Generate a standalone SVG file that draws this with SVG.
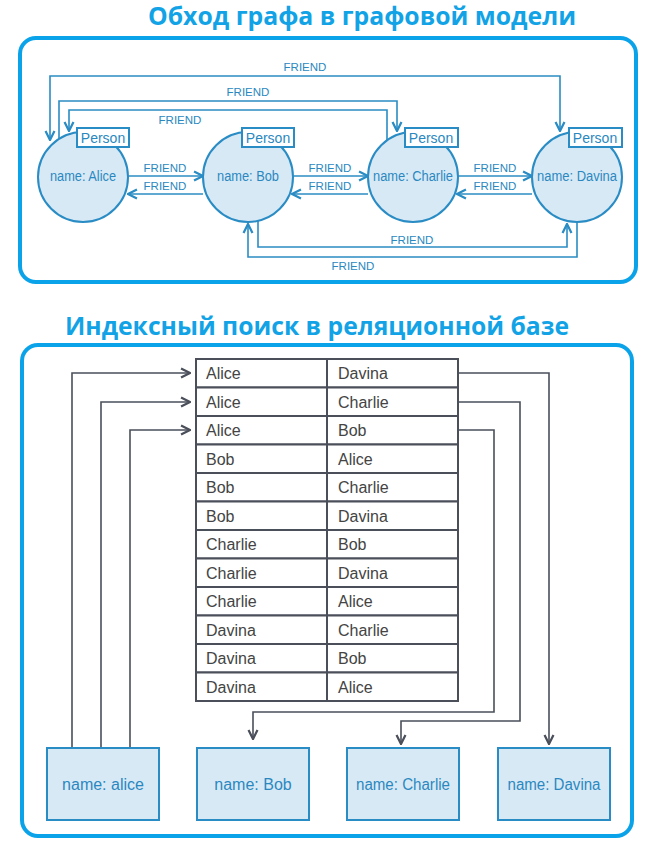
<svg xmlns="http://www.w3.org/2000/svg" width="657" height="851" viewBox="0 0 657 851">
<style>
.panel{fill:#fff;stroke:#0aa3ea;stroke-width:4}
.title{font-family:"Open Sans","Liberation Sans",sans-serif;font-weight:bold;font-size:24.5px;fill:#12a3e6;text-anchor:middle}
.node{fill:#d8e9f6;stroke:#2a8cc4;stroke-width:2}
.lbl{fill:#fff;stroke:#2a8cc4;stroke-width:2}
.nt{font-family:"Liberation Sans",Arial,sans-serif;font-size:14px;fill:#2a88c0;text-anchor:middle}
.ft{font-family:"Liberation Sans",Arial,sans-serif;font-size:11.5px;fill:#2a88c0;text-anchor:middle}
.e{fill:none;stroke:#2a8cc4;stroke-width:1.6}
.g{fill:none;stroke:#4a4f5a;stroke-width:1.6}
.cell{fill:#fff;stroke:#4a4f5a;stroke-width:2}
.tt{font-family:"Liberation Sans",Arial,sans-serif;font-size:16px;fill:#444}
.bt{font-family:"Liberation Sans",Arial,sans-serif;font-size:16px;fill:#2a88c0;text-anchor:middle}
</style>
<defs>
<marker id="ab" viewBox="0 0 10 10" refX="9" refY="5" markerWidth="7" markerHeight="7" orient="auto-start-reverse"><path d="M1,1 L9,5 L1,9" fill="none" stroke="#2a8cc4" stroke-width="2"/></marker>
<marker id="ag" viewBox="0 0 10 10" refX="9" refY="5" markerWidth="7" markerHeight="7" orient="auto-start-reverse"><path d="M1,1 L9,5 L1,9" fill="none" stroke="#4a4f5a" stroke-width="2"/></marker>
</defs>
<rect width="657" height="851" fill="#fff"/>
<text class="title" x="362" y="25" textLength="428" lengthAdjust="spacingAndGlyphs">Обход графа в графовой модели</text>
<rect class="panel" x="20" y="38" width="616" height="244" rx="16"/>
<text class="title" x="317" y="335" textLength="504" lengthAdjust="spacingAndGlyphs">Индексный поиск в реляционной базе</text>
<rect class="panel" x="22" y="345" width="610" height="491" rx="16"/>

<g id="connectors">
<path class="e" d="M128,176 H203" marker-end="url(#ab)"/>
<path class="e" d="M203,194 H128" marker-end="url(#ab)"/>
<path class="e" d="M292,176 H368" marker-end="url(#ab)"/>
<path class="e" d="M368,194 H292" marker-end="url(#ab)"/>
<path class="e" d="M457,176 H532" marker-end="url(#ab)"/>
<path class="e" d="M532,194 H457" marker-end="url(#ab)"/>
<path class="e" d="M50,140 V76 H560 V131" marker-start="url(#ab)" marker-end="url(#ab)"/>
<path class="e" d="M59,142 V101 H397 V131" marker-end="url(#ab)"/>
<path class="e" d="M387,142 V110 H69 V131" marker-end="url(#ab)"/>
<path class="e" d="M258,221 V247 H567 V224" marker-end="url(#ab)"/>
<path class="e" d="M577,221 V257 H248 V224" marker-end="url(#ab)"/>
<text class="ft" x="305" y="71">FRIEND</text>
<text class="ft" x="248" y="96">FRIEND</text>
<text class="ft" x="180" y="124">FRIEND</text>
<text class="ft" x="165" y="172">FRIEND</text>
<text class="ft" x="165" y="190">FRIEND</text>
<text class="ft" x="330" y="172">FRIEND</text>
<text class="ft" x="330" y="190">FRIEND</text>
<text class="ft" x="495" y="172">FRIEND</text>
<text class="ft" x="495" y="190">FRIEND</text>
<text class="ft" x="412" y="244">FRIEND</text>
<text class="ft" x="353" y="270">FRIEND</text>

<path class="g" d="M72,748 V373 H190" marker-end="url(#ag)"/>
<path class="g" d="M101,748 V402 H190" marker-end="url(#ag)"/>
<path class="g" d="M130,748 V430 H190" marker-end="url(#ag)"/>
<path class="g" d="M458,373 H549 V744" marker-end="url(#ag)"/>
<path class="g" d="M458,402 H520 V721 H401 V744" marker-end="url(#ag)"/>
<path class="g" d="M458,430 H494 V712 H253 V739" marker-end="url(#ag)"/>
</g>

<g id="alice"><circle class="node" cx="83" cy="177" r="45"/><rect class="lbl" x="77" y="128" width="52" height="19"/><text class="nt" x="103" y="143">Person</text><text class="nt" x="83" y="181" textLength="66" lengthAdjust="spacingAndGlyphs">name: Alice</text></g>
<g id="bob"><circle class="node" cx="248" cy="177" r="45"/><rect class="lbl" x="242" y="128" width="52" height="19"/><text class="nt" x="248" y="143" dx="20">Person</text><text class="nt" x="248" y="181" textLength="62" lengthAdjust="spacingAndGlyphs">name: Bob</text></g>
<g id="charlie"><circle class="node" cx="413" cy="177" r="45"/><rect class="lbl" x="405" y="128" width="53" height="19"/><text class="nt" x="431" y="143">Person</text><text class="nt" x="413" y="181" textLength="80" lengthAdjust="spacingAndGlyphs">name: Charlie</text></g>
<g id="davina"><circle class="node" cx="577" cy="177" r="45"/><rect class="lbl" x="569" y="128" width="53" height="19"/><text class="nt" x="595" y="143">Person</text><text class="nt" x="577" y="181" textLength="80" lengthAdjust="spacingAndGlyphs">name: Davina</text></g>

<g id="table">
<rect class="cell" x="196" y="359" width="131" height="28.5"/><rect class="cell" x="327" y="359" width="131" height="28.5"/>
<rect class="cell" x="196" y="387.5" width="131" height="28.5"/><rect class="cell" x="327" y="387.5" width="131" height="28.5"/>
<rect class="cell" x="196" y="416" width="131" height="28.5"/><rect class="cell" x="327" y="416" width="131" height="28.5"/>
<rect class="cell" x="196" y="444.5" width="131" height="28.5"/><rect class="cell" x="327" y="444.5" width="131" height="28.5"/>
<rect class="cell" x="196" y="473" width="131" height="28.5"/><rect class="cell" x="327" y="473" width="131" height="28.5"/>
<rect class="cell" x="196" y="501.5" width="131" height="28.5"/><rect class="cell" x="327" y="501.5" width="131" height="28.5"/>
<rect class="cell" x="196" y="530" width="131" height="28.5"/><rect class="cell" x="327" y="530" width="131" height="28.5"/>
<rect class="cell" x="196" y="558.5" width="131" height="28.5"/><rect class="cell" x="327" y="558.5" width="131" height="28.5"/>
<rect class="cell" x="196" y="587" width="131" height="28.5"/><rect class="cell" x="327" y="587" width="131" height="28.5"/>
<rect class="cell" x="196" y="615.5" width="131" height="28.5"/><rect class="cell" x="327" y="615.5" width="131" height="28.5"/>
<rect class="cell" x="196" y="644" width="131" height="28.5"/><rect class="cell" x="327" y="644" width="131" height="28.5"/>
<rect class="cell" x="196" y="672.5" width="131" height="28.5"/><rect class="cell" x="327" y="672.5" width="131" height="28.5"/>
<text class="tt" x="206" y="379">Alice</text><text class="tt" x="338" y="379">Davina</text>
<text class="tt" x="206" y="407.5">Alice</text><text class="tt" x="338" y="407.5">Charlie</text>
<text class="tt" x="206" y="436">Alice</text><text class="tt" x="338" y="436">Bob</text>
<text class="tt" x="206" y="464.5">Bob</text><text class="tt" x="338" y="464.5">Alice</text>
<text class="tt" x="206" y="493">Bob</text><text class="tt" x="338" y="493">Charlie</text>
<text class="tt" x="206" y="521.5">Bob</text><text class="tt" x="338" y="521.5">Davina</text>
<text class="tt" x="206" y="550">Charlie</text><text class="tt" x="338" y="550">Bob</text>
<text class="tt" x="206" y="578.5">Charlie</text><text class="tt" x="338" y="578.5">Davina</text>
<text class="tt" x="206" y="607">Charlie</text><text class="tt" x="338" y="607">Alice</text>
<text class="tt" x="206" y="635.5">Davina</text><text class="tt" x="338" y="635.5">Charlie</text>
<text class="tt" x="206" y="664">Davina</text><text class="tt" x="338" y="664">Bob</text>
<text class="tt" x="206" y="692.5">Davina</text><text class="tt" x="338" y="692.5">Alice</text>
</g>

<g id="box-alice"><rect class="node" x="47" y="748" width="112" height="72"/><text class="bt" x="103" y="790">name: alice</text></g>
<g id="box-bob"><rect class="node" x="197" y="748" width="112" height="72"/><text class="bt" x="253" y="790">name: Bob</text></g>
<g id="box-charlie"><rect class="node" x="347" y="748" width="112" height="72"/><text class="bt" x="403" y="790" textLength="94" lengthAdjust="spacingAndGlyphs">name: Charlie</text></g>
<g id="box-davina"><rect class="node" x="498" y="748" width="112" height="72"/><text class="bt" x="554" y="790" textLength="93" lengthAdjust="spacingAndGlyphs">name: Davina</text></g>
</svg>
